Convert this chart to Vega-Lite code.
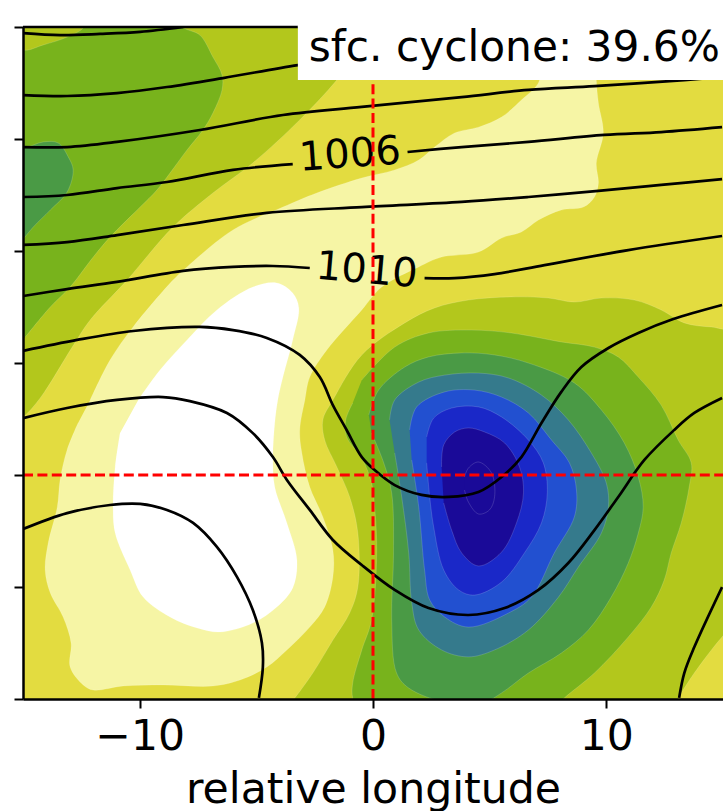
{"$schema":"https://vega.github.io/schema/vega-lite/v6.json","autosize":{"type":"none"},"width":700,"height":672,"padding":{"left":23,"top":27,"right":0,"bottom":112},"background":"white","config":{"view":{"stroke":null},"font":"DejaVu Sans"},
"datasets":{"bands":[
{"b":"base","x":-16,"y":-11},{"b":"base","x":16,"y":-11},{"b":"base","x":16,"y":21},{"b":"base","x":-16,"y":21},
{"b":"yellow","x":-15.55,"y":-10.49},{"b":"yellow","x":-15.55,"y":2.23},{"b":"yellow","x":-14.99,"y":2.59},{"b":"yellow","x":-14.26,"y":3.44},{"b":"yellow","x":-12.89,"y":5.71},{"b":"yellow","x":-12.12,"y":6.92},{"b":"yellow","x":-10.54,"y":8.7},{"b":"yellow","x":-8.57,"y":11.07},{"b":"yellow","x":-6.86,"y":12.59},{"b":"yellow","x":-5.15,"y":13.93},{"b":"yellow","x":-3.14,"y":15.85},{"b":"yellow","x":-1.55,"y":17.63},{"b":"yellow","x":-0.57,"y":18.97},{"b":"yellow","x":-0.57,"y":20.76},{"b":"yellow","x":15.69,"y":20.76},{"b":"yellow","x":15.69,"y":6.61},{"b":"yellow","x":14.49,"y":6.61},{"b":"yellow","x":13.34,"y":6.79},{"b":"yellow","x":12.35,"y":7.37},{"b":"yellow","x":11.2,"y":7.81},{"b":"yellow","x":9.79,"y":7.9},{"b":"yellow","x":8.63,"y":7.72},{"b":"yellow","x":7.52,"y":7.9},{"b":"yellow","x":5.93,"y":7.95},{"b":"yellow","x":4.09,"y":7.81},{"b":"yellow","x":2.64,"y":7.46},{"b":"yellow","x":1.36,"y":6.79},{"b":"yellow","x":-0.48,"y":5.36},{"b":"yellow","x":-1.72,"y":3.35},{"b":"yellow","x":-2.15,"y":2.46},{"b":"yellow","x":-2.07,"y":1.56},{"b":"yellow","x":-1.55,"y":0.36},{"b":"yellow","x":-1,"y":-0.98},{"b":"yellow","x":-0.65,"y":-2.59},{"b":"yellow","x":-0.65,"y":-5},{"b":"yellow","x":-1,"y":-6.16},{"b":"yellow","x":-1.72,"y":-7.37},{"b":"yellow","x":-2.58,"y":-8.84},{"b":"yellow","x":-3.35,"y":-9.95},{"b":"yellow","x":-3.78,"y":-10.49},
{"b":"greenTL","x":-15.55,"y":5.58},{"b":"greenTL","x":-15.55,"y":19.42},{"b":"greenTL","x":-14.99,"y":18.97},{"b":"greenTL","x":-14.13,"y":19.2},{"b":"greenTL","x":-13.11,"y":19.55},{"b":"greenTL","x":-12.42,"y":19.95},{"b":"greenTL","x":-12.12,"y":20.53},{"b":"greenTL","x":-8.27,"y":20.53},{"b":"greenTL","x":-8.14,"y":20},{"b":"greenTL","x":-7.42,"y":19.64},{"b":"greenTL","x":-6.86,"y":18.66},{"b":"greenTL","x":-6.47,"y":17.86},{"b":"greenTL","x":-6.47,"y":17.19},{"b":"greenTL","x":-6.86,"y":16.16},{"b":"greenTL","x":-7.29,"y":15.4},{"b":"greenTL","x":-7.97,"y":14.51},{"b":"greenTL","x":-8.7,"y":13.48},{"b":"greenTL","x":-9.26,"y":12.72},{"b":"greenTL","x":-9.98,"y":11.96},{"b":"greenTL","x":-11.27,"y":10.62},{"b":"greenTL","x":-11.99,"y":9.73},{"b":"greenTL","x":-12.98,"y":8.39},{"b":"greenTL","x":-13.83,"y":7.5},{"b":"greenTL","x":-14.9,"y":6.16},
{"b":"dgreenL","x":-15.55,"y":10.04},{"b":"dgreenL","x":-15.55,"y":14.73},{"b":"dgreenL","x":-14.99,"y":14.6},{"b":"dgreenL","x":-14.13,"y":14.87},{"b":"dgreenL","x":-13.49,"y":14.82},{"b":"dgreenL","x":-13.06,"y":14.2},{"b":"dgreenL","x":-12.85,"y":13.62},{"b":"dgreenL","x":-13.11,"y":12.63},{"b":"dgreenL","x":-13.83,"y":11.83},{"b":"dgreenL","x":-14.56,"y":11.07},{"b":"dgreenL","x":-14.95,"y":10.58},
{"b":"pale","x":-12.12,"y":3.35},{"b":"pale","x":-11.27,"y":5.13},{"b":"pale","x":-10.28,"y":6.61},{"b":"pale","x":-8.57,"y":8.7},{"b":"pale","x":-7.97,"y":9.29},{"b":"pale","x":-6,"y":10.94},{"b":"pale","x":-3.86,"y":11.96},{"b":"pale","x":-2.41,"y":12.59},{"b":"pale","x":-0.48,"y":13.26},{"b":"pale","x":0.93,"y":13.62},{"b":"pale","x":1.96,"y":14.06},{"b":"pale","x":2.64,"y":14.64},{"b":"pale","x":3.5,"y":15.27},{"b":"pale","x":4.52,"y":15.53},{"b":"pale","x":5.51,"y":15.98},{"b":"pale","x":6.36,"y":16.74},{"b":"pale","x":7.09,"y":17.5},{"b":"pale","x":7.35,"y":18.53},{"b":"pale","x":9.57,"y":18.53},{"b":"pale","x":9.57,"y":17.63},{"b":"pale","x":9.66,"y":16.61},{"b":"pale","x":9.87,"y":15.27},{"b":"pale","x":9.57,"y":13.93},{"b":"pale","x":9.66,"y":13.03},{"b":"pale","x":9.49,"y":12.41},{"b":"pale","x":9.02,"y":11.96},{"b":"pale","x":8.07,"y":11.83},{"b":"pale","x":7.09,"y":11.38},{"b":"pale","x":6.36,"y":10.85},{"b":"pale","x":5.51,"y":10.58},{"b":"pale","x":4.52,"y":9.95},{"b":"pale","x":2.94,"y":9.73},{"b":"pale","x":1.96,"y":9.29},{"b":"pale","x":0.37,"y":8.39},{"b":"pale","x":-0.48,"y":7.37},{"b":"pale","x":-1.98,"y":5.58},{"b":"pale","x":-2.71,"y":4.37},{"b":"pale","x":-2.92,"y":3.35},{"b":"pale","x":-3.14,"y":2.01},{"b":"pale","x":-3.05,"y":0.98},{"b":"pale","x":-2.71,"y":-0.54},{"b":"pale","x":-2.15,"y":-1.87},{"b":"pale","x":-1.72,"y":-3.35},{"b":"pale","x":-1.72,"y":-4.55},{"b":"pale","x":-2.07,"y":-5.89},{"b":"pale","x":-2.71,"y":-6.79},{"b":"pale","x":-3.69,"y":-7.81},{"b":"pale","x":-4.55,"y":-8.57},{"b":"pale","x":-5.7,"y":-9.15},{"b":"pale","x":-6.86,"y":-9.42},{"b":"pale","x":-9,"y":-9.37},{"b":"pale","x":-10.71,"y":-9.42},{"b":"pale","x":-11.99,"y":-9.6},{"b":"pale","x":-12.42,"y":-9.37},{"b":"pale","x":-12.98,"y":-8.57},{"b":"pale","x":-12.94,"y":-7.5},{"b":"pale","x":-13.28,"y":-6.34},{"b":"pale","x":-13.83,"y":-5.27},{"b":"pale","x":-14.05,"y":-4.24},{"b":"pale","x":-13.92,"y":-3.04},{"b":"pale","x":-13.53,"y":-1.43},{"b":"pale","x":-13.41,"y":-0.22},{"b":"pale","x":-13.11,"y":1.12},{"b":"pale","x":-12.64,"y":2.32},
{"b":"white","x":-10.06,"y":3.35},{"b":"white","x":-9.13,"y":4.69},{"b":"white","x":-7.97,"y":6.03},{"b":"white","x":-6.69,"y":7.37},{"b":"white","x":-5.15,"y":8.39},{"b":"white","x":-4.12,"y":8.57},{"b":"white","x":-3.44,"y":8.12},{"b":"white","x":-3.18,"y":7.46},{"b":"white","x":-3.44,"y":6.03},{"b":"white","x":-3.86,"y":4.37},{"b":"white","x":-4.08,"y":3.35},{"b":"white","x":-4.21,"y":2.32},{"b":"white","x":-4.29,"y":0.8},{"b":"white","x":-4.21,"y":-0.54},{"b":"white","x":-3.69,"y":-2.14},{"b":"white","x":-3.26,"y":-3.79},{"b":"white","x":-3.44,"y":-5.04},{"b":"white","x":-4.12,"y":-5.89},{"b":"white","x":-5.15,"y":-6.61},{"b":"white","x":-6.56,"y":-7.01},{"b":"white","x":-7.54,"y":-6.83},{"b":"white","x":-8.7,"y":-6.34},{"b":"white","x":-9.85,"y":-5.45},{"b":"white","x":-10.41,"y":-4.24},{"b":"white","x":-11.05,"y":-2.59},{"b":"white","x":-11.14,"y":-1.43},{"b":"white","x":-11.05,"y":0.36},{"b":"white","x":-10.84,"y":1.87},
{"b":"yellowBR","x":13.08,"y":-9.95},{"b":"yellowBR","x":13.77,"y":-8.84},{"b":"yellowBR","x":14.96,"y":-7.23},{"b":"yellowBR","x":15.69,"y":-6.47},{"b":"yellowBR","x":15.69,"y":-10.49},{"b":"yellowBR","x":12.78,"y":-10.49},
{"b":"green","x":-0.48,"y":4.24},{"b":"green","x":0.93,"y":5.71},{"b":"green","x":2.38,"y":6.34},{"b":"green","x":4.22,"y":6.47},{"b":"green","x":5.93,"y":6.34},{"b":"green","x":8.07,"y":5.94},{"b":"green","x":9.49,"y":5.71},{"b":"green","x":10.51,"y":5.27},{"b":"green","x":11.37,"y":4.37},{"b":"green","x":12.35,"y":3.12},{"b":"green","x":13.08,"y":1.56},{"b":"green","x":13.64,"y":0.54},{"b":"green","x":13.55,"y":-0.54},{"b":"green","x":13.21,"y":-2.14},{"b":"green","x":12.78,"y":-3.48},{"b":"green","x":12.48,"y":-4.69},{"b":"green","x":11.93,"y":-5.89},{"b":"green","x":10.94,"y":-7.23},{"b":"green","x":9.49,"y":-8.84},{"b":"green","x":8.2,"y":-9.95},{"b":"green","x":7.56,"y":-10.58},{"b":"green","x":-0.57,"y":-10.58},{"b":"green","x":-0.87,"y":-9.95},{"b":"green","x":-0.87,"y":-9.29},{"b":"green","x":-0.48,"y":-7.81},{"b":"green","x":-0.06,"y":-6.47},{"b":"green","x":0.16,"y":-3.48},{"b":"green","x":0.07,"y":-1.43},{"b":"green","x":-0.06,"y":-0.36},{"b":"green","x":-0.48,"y":0.76},{"b":"green","x":-1.13,"y":1.7},{"b":"green","x":-1.17,"y":2.46},{"b":"green","x":-0.87,"y":3.21},
{"b":"dgreen","x":-0.18,"y":2.68},{"b":"dgreen","x":0.24,"y":3.79},{"b":"dgreen","x":1.36,"y":4.82},{"b":"dgreen","x":2.38,"y":5.27},{"b":"dgreen","x":3.8,"y":5.45},{"b":"dgreen","x":5.21,"y":5.36},{"b":"dgreen","x":6.66,"y":5},{"b":"dgreen","x":8.63,"y":4.11},{"b":"dgreen","x":9.79,"y":2.9},{"b":"dgreen","x":10.77,"y":1.43},{"b":"dgreen","x":11.37,"y":-0.09},{"b":"dgreen","x":11.58,"y":-1.43},{"b":"dgreen","x":11.37,"y":-2.59},{"b":"dgreen","x":10.94,"y":-3.93},{"b":"dgreen","x":10.21,"y":-5.45},{"b":"dgreen","x":9.23,"y":-6.92},{"b":"dgreen","x":8.07,"y":-7.95},{"b":"dgreen","x":6.66,"y":-8.84},{"b":"dgreen","x":5.51,"y":-9.73},{"b":"dgreen","x":4.78,"y":-10.13},{"b":"dgreen","x":3.07,"y":-10.13},{"b":"dgreen","x":1.53,"y":-9.51},{"b":"dgreen","x":1.01,"y":-8.84},{"b":"dgreen","x":0.8,"y":-6.47},{"b":"dgreen","x":0.88,"y":-3.48},{"b":"dgreen","x":0.8,"y":-0.8},{"b":"dgreen","x":0.46,"y":0.54},{"b":"dgreen","x":-0.06,"y":1.87},
{"b":"teal","x":0.71,"y":2.46},{"b":"teal","x":0.93,"y":3.35},{"b":"teal","x":1.96,"y":4.15},{"b":"teal","x":3.07,"y":4.46},{"b":"teal","x":4.52,"y":4.55},{"b":"teal","x":5.81,"y":4.33},{"b":"teal","x":7.22,"y":3.57},{"b":"teal","x":8.37,"y":2.46},{"b":"teal","x":9.36,"y":0.98},{"b":"teal","x":10,"y":-0.36},{"b":"teal","x":10.09,"y":-1.43},{"b":"teal","x":9.79,"y":-2.59},{"b":"teal","x":8.8,"y":-4.11},{"b":"teal","x":7.95,"y":-5.45},{"b":"teal","x":6.66,"y":-6.92},{"b":"teal","x":5.21,"y":-7.81},{"b":"teal","x":4.09,"y":-8.12},{"b":"teal","x":2.94,"y":-7.81},{"b":"teal","x":1.96,"y":-6.92},{"b":"teal","x":1.66,"y":-5.71},{"b":"teal","x":1.53,"y":-3.48},{"b":"teal","x":1.23,"y":-0.98},{"b":"teal","x":0.93,"y":0.98},
{"b":"blue","x":1.57,"y":2.01},{"b":"blue","x":1.87,"y":3.04},{"b":"blue","x":3.07,"y":3.71},{"b":"blue","x":4.35,"y":3.79},{"b":"blue","x":5.51,"y":3.48},{"b":"blue","x":6.66,"y":2.77},{"b":"blue","x":7.65,"y":1.56},{"b":"blue","x":8.42,"y":0.54},{"b":"blue","x":8.72,"y":-0.67},{"b":"blue","x":8.63,"y":-1.87},{"b":"blue","x":7.77,"y":-3.48},{"b":"blue","x":6.79,"y":-5.45},{"b":"blue","x":5.81,"y":-6.16},{"b":"blue","x":4.09,"y":-6.79},{"b":"blue","x":3.07,"y":-6.34},{"b":"blue","x":2.43,"y":-5.58},{"b":"blue","x":2.21,"y":-4.24},{"b":"blue","x":1.96,"y":-1.43},{"b":"blue","x":1.66,"y":0.67},
{"b":"dblue","x":2.3,"y":1.7},{"b":"dblue","x":2.6,"y":2.54},{"b":"dblue","x":3.37,"y":2.99},{"b":"dblue","x":4.52,"y":3.04},{"b":"dblue","x":5.51,"y":2.59},{"b":"dblue","x":6.66,"y":1.56},{"b":"dblue","x":7.3,"y":0.54},{"b":"dblue","x":7.47,"y":-0.8},{"b":"dblue","x":7.22,"y":-2.14},{"b":"dblue","x":6.49,"y":-3.48},{"b":"dblue","x":5.51,"y":-4.78},{"b":"dblue","x":4.35,"y":-5.36},{"b":"dblue","x":3.67,"y":-5.13},{"b":"dblue","x":3.03,"y":-4.24},{"b":"dblue","x":2.6,"y":-2.32},{"b":"dblue","x":2.43,"y":-0.98},{"b":"dblue","x":2.3,"y":0.54},
{"b":"navy","x":2.94,"y":0.36},{"b":"navy","x":3.03,"y":1.34},{"b":"navy","x":3.5,"y":1.92},{"b":"navy","x":4.09,"y":2.1},{"b":"navy","x":4.78,"y":1.92},{"b":"navy","x":5.64,"y":1.43},{"b":"navy","x":6.28,"y":0.36},{"b":"navy","x":6.45,"y":-0.8},{"b":"navy","x":6.15,"y":-2.14},{"b":"navy","x":5.51,"y":-3.44},{"b":"navy","x":4.52,"y":-4.06},{"b":"navy","x":3.8,"y":-3.48},{"b":"navy","x":3.37,"y":-2.46},{"b":"navy","x":3.03,"y":-1.25},
{"b":"inner","x":3.92,"y":-0.09},{"b":"inner","x":4.09,"y":0.31},{"b":"inner","x":4.52,"y":0.58},{"b":"inner","x":5.08,"y":0.09},{"b":"inner","x":5.21,"y":-0.98},{"b":"inner","x":4.99,"y":-1.56},{"b":"inner","x":4.52,"y":-1.74},{"b":"inner","x":4.09,"y":-1.21},{"b":"inner","x":3.92,"y":-0.67}
],
"lines":[
{"l":"L1","x":-14.99,"y":19.73},{"l":"L1","x":-13.41,"y":19.64},{"l":"L1","x":-11.7,"y":19.69},{"l":"L1","x":-9.98,"y":19.78},{"l":"L1","x":-8.14,"y":20},
{"l":"L2","x":-14.99,"y":16.96},{"l":"L2","x":-13.11,"y":16.92},{"l":"L2","x":-10.97,"y":17.05},{"l":"L2","x":-8.83,"y":17.32},{"l":"L2","x":-6.43,"y":17.72},{"l":"L2","x":-3.22,"y":18.3},{"l":"L2","x":0,"y":18.79},{"l":"L2","x":3.28,"y":19.2},
{"l":"L3","x":-14.99,"y":14.64},{"l":"L3","x":-13.11,"y":14.64},{"l":"L3","x":-10.97,"y":14.87},{"l":"L3","x":-7.42,"y":15.4},{"l":"L3","x":-3.86,"y":16.07},{"l":"L3","x":-0.48,"y":16.43},{"l":"L3","x":3.8,"y":16.87},{"l":"L3","x":6.66,"y":17.19},{"l":"L3","x":9.49,"y":17.36},{"l":"L3","x":13.34,"y":17.63},{"l":"L3","x":14.96,"y":17.77},
{"l":"L4a","x":-14.99,"y":12.41},{"l":"L4a","x":-13.11,"y":12.5},{"l":"L4a","x":-10.97,"y":12.81},{"l":"L4a","x":-8.83,"y":13.08},{"l":"L4a","x":-6,"y":13.62},{"l":"L4a","x":-3.44,"y":13.88},
{"l":"L4b","x":1.48,"y":14.42},{"l":"L4b","x":3.8,"y":14.64},{"l":"L4b","x":6.66,"y":14.87},{"l":"L4b","x":9.91,"y":15.18},{"l":"L4b","x":12.35,"y":15.31},{"l":"L4b","x":14.96,"y":15.53},
{"l":"L5","x":-14.99,"y":10.27},{"l":"L5","x":-13.11,"y":10.4},{"l":"L5","x":-10.97,"y":10.71},{"l":"L5","x":-8.14,"y":11.16},{"l":"L5","x":-4.55,"y":11.7},{"l":"L5","x":-0.48,"y":11.96},{"l":"L5","x":3.8,"y":12.19},{"l":"L5","x":6.66,"y":12.41},{"l":"L5","x":9.66,"y":12.68},{"l":"L5","x":12.35,"y":12.95},{"l":"L5","x":14.96,"y":13.21},
{"l":"L6a","x":-14.99,"y":7.99},{"l":"L6a","x":-13.11,"y":8.3},{"l":"L6a","x":-10.97,"y":8.62},{"l":"L6a","x":-8.14,"y":9.11},{"l":"L6a","x":-6,"y":9.29},{"l":"L6a","x":-4.29,"y":9.33},{"l":"L6a","x":-2.71,"y":9.24},
{"l":"L6b","x":2.21,"y":8.79},{"l":"L6b","x":3.5,"y":8.79},{"l":"L6b","x":5.21,"y":8.97},{"l":"L6b","x":7.35,"y":9.37},{"l":"L6b","x":10.94,"y":10.04},{"l":"L6b","x":14.96,"y":10.67},
{"l":"L7","x":-14.99,"y":5.54},{"l":"L7","x":-12.68,"y":6.03},{"l":"L7","x":-10.28,"y":6.43},{"l":"L7","x":-7.42,"y":6.61},{"l":"L7","x":-6,"y":6.47},{"l":"L7","x":-4.55,"y":6.12},{"l":"L7","x":-3.14,"y":5.36},{"l":"L7","x":-2.28,"y":4.37},{"l":"L7","x":-1.72,"y":3.12},{"l":"L7","x":-1.13,"y":2.01},{"l":"L7","x":-0.48,"y":0.8},{"l":"L7","x":0.07,"y":0.22},{"l":"L7","x":0.93,"y":-0.45},{"l":"L7","x":2.08,"y":-0.89},{"l":"L7","x":3.24,"y":-0.98},{"l":"L7","x":4.52,"y":-0.76},{"l":"L7","x":5.51,"y":-0.09},{"l":"L7","x":6.36,"y":0.8},{"l":"L7","x":7.22,"y":2.32},{"l":"L7","x":8.07,"y":3.71},{"l":"L7","x":8.93,"y":4.82},{"l":"L7","x":10.09,"y":5.67},{"l":"L7","x":11.37,"y":6.34},{"l":"L7","x":12.87,"y":6.96},{"l":"L7","x":14.96,"y":7.59},
{"l":"L8","x":-14.99,"y":2.54},{"l":"L8","x":-13.11,"y":2.99},{"l":"L8","x":-10.97,"y":3.35},{"l":"L8","x":-9,"y":3.48},{"l":"L8","x":-7.85,"y":3.3},{"l":"L8","x":-6.26,"y":2.77},{"l":"L8","x":-5.15,"y":1.87},{"l":"L8","x":-4.29,"y":0.8},{"l":"L8","x":-3.69,"y":-0.22},{"l":"L8","x":-2.71,"y":-1.56},{"l":"L8","x":-1.72,"y":-2.9},{"l":"L8","x":-0.48,"y":-4.02},{"l":"L8","x":0.93,"y":-5.13},{"l":"L8","x":2.38,"y":-5.94},{"l":"L8","x":4.09,"y":-6.25},{"l":"L8","x":5.64,"y":-5.94},{"l":"L8","x":7.09,"y":-5.13},{"l":"L8","x":8.37,"y":-3.93},{"l":"L8","x":9.49,"y":-2.46},{"l":"L8","x":10.51,"y":-0.98},{"l":"L8","x":11.63,"y":0.67},{"l":"L8","x":12.91,"y":2.01},{"l":"L8","x":13.77,"y":2.77},{"l":"L8","x":14.96,"y":3.44},
{"l":"L9","x":-14.99,"y":-2.41},{"l":"L9","x":-13.11,"y":-1.7},{"l":"L9","x":-11.27,"y":-1.34},{"l":"L9","x":-9.98,"y":-1.29},{"l":"L9","x":-8.83,"y":-1.56},{"l":"L9","x":-7.71,"y":-2.14},{"l":"L9","x":-6.69,"y":-3.21},{"l":"L9","x":-5.83,"y":-4.55},{"l":"L9","x":-5.15,"y":-6.03},{"l":"L9","x":-4.76,"y":-7.5},{"l":"L9","x":-4.72,"y":-8.57},{"l":"L9","x":-4.89,"y":-9.95},
{"l":"L10","x":13.12,"y":-9.95},{"l":"L10","x":13.34,"y":-8.84},{"l":"L10","x":13.77,"y":-7.68},{"l":"L10","x":14.96,"y":-5}
]},
"encoding":{"x":{"field":"x","type":"quantitative","scale":{"domain":[-15,15],"nice":false,"zero":false},"axis":{"values":[-10,0,10],"grid":false,"title":"relative longitude","titleFontSize":42.6,"titleFontWeight":"normal","titleColor":"black","titlePadding":11,"labelFontSize":42.5,"labelColor":"black","labelPadding":7,"labelFlush":false,"tickSize":9,"tickWidth":2,"tickColor":"black","domainWidth":2.5,"domainColor":"black","zindex":1}},
"y":{"field":"y","type":"quantitative","scale":{"domain":[-10,20],"nice":false,"zero":false},"axis":{"values":[-10,-5,0,5,10,15,20],"grid":false,"title":null,"labels":false,"tickSize":9,"tickWidth":2,"tickColor":"black","domainWidth":2.5,"domainColor":"black","zindex":1}}},
"layer":[
{"data":{"name":"bands"},"mark":{"type":"line","clip":true,"interpolate":"catmull-rom","stroke":"#ffffff","strokeOpacity":0.22,"strokeWidth":0.7},
"encoding":{"order":{"value":null},"fill":{"field":"b","type":"nominal","legend":null,"sort":null,"scale":{"domain":["base","yellow","greenTL","dgreenL","pale","white","yellowBR","green","dgreen","teal","blue","dblue","navy","inner"],"range":["#b3c71c","#e3dc40","#78b31c","#4a9a45","#f6f5a5","#ffffff","#e3dc40","#78b31c","#4a9a45","#357a8c","#2250d0","#1a28c8","#1a0a98","#1a0a98"]}}}},
{"data":{"name":"lines"},"mark":{"type":"line","clip":true,"interpolate":"catmull-rom","color":"black","strokeWidth":2.7},"encoding":{"order":{"value":null},"detail":{"field":"l"}}},
{"data":{"values":[{"label":"1006","x":-0.99,"y":14.28}]},"mark":{"type":"text","fontSize":40,"angle":356,"color":"black","align":"center","baseline":"middle"},"encoding":{"text":{"field":"label"}}},
{"data":{"values":[{"label":"1010","x":-0.27,"y":9.11}]},"mark":{"type":"text","fontSize":40,"angle":5,"color":"black","align":"center","baseline":"middle"},"encoding":{"text":{"field":"label"}}},
{"data":{"values":[{"x":0,"y":-10,"y2":20}]},"mark":{"type":"rule","color":"#ff0000","strokeWidth":3,"strokeDash":[10,4.4]},"encoding":{"y2":{"field":"y2"}}},
{"data":{"values":[{"x":-15,"x2":15,"y":0}]},"mark":{"type":"rule","color":"#ff0000","strokeWidth":3,"strokeDash":[10,4.4]},"encoding":{"x2":{"field":"x2"}}},
{"data":{"values":[{"x":-15,"x2":-3.22,"y":20}]},"mark":{"type":"rule","color":"black","strokeWidth":2.5},"encoding":{"x2":{"field":"x2"}}},
{"data":{"values":[{"x":-3.22,"x2":15.1,"y":17.63,"y2":20.05}]},"mark":{"type":"rect","color":"white","clip":false},"encoding":{"x2":{"field":"x2"},"y2":{"field":"y2"}}},
{"data":{"values":[{"label":"sfc. cyclone: 39.6%","x":-2.75,"y":19.05}]},"mark":{"type":"text","fontSize":42.3,"color":"black","align":"left","baseline":"middle"},"encoding":{"text":{"field":"label"}}}
]}
